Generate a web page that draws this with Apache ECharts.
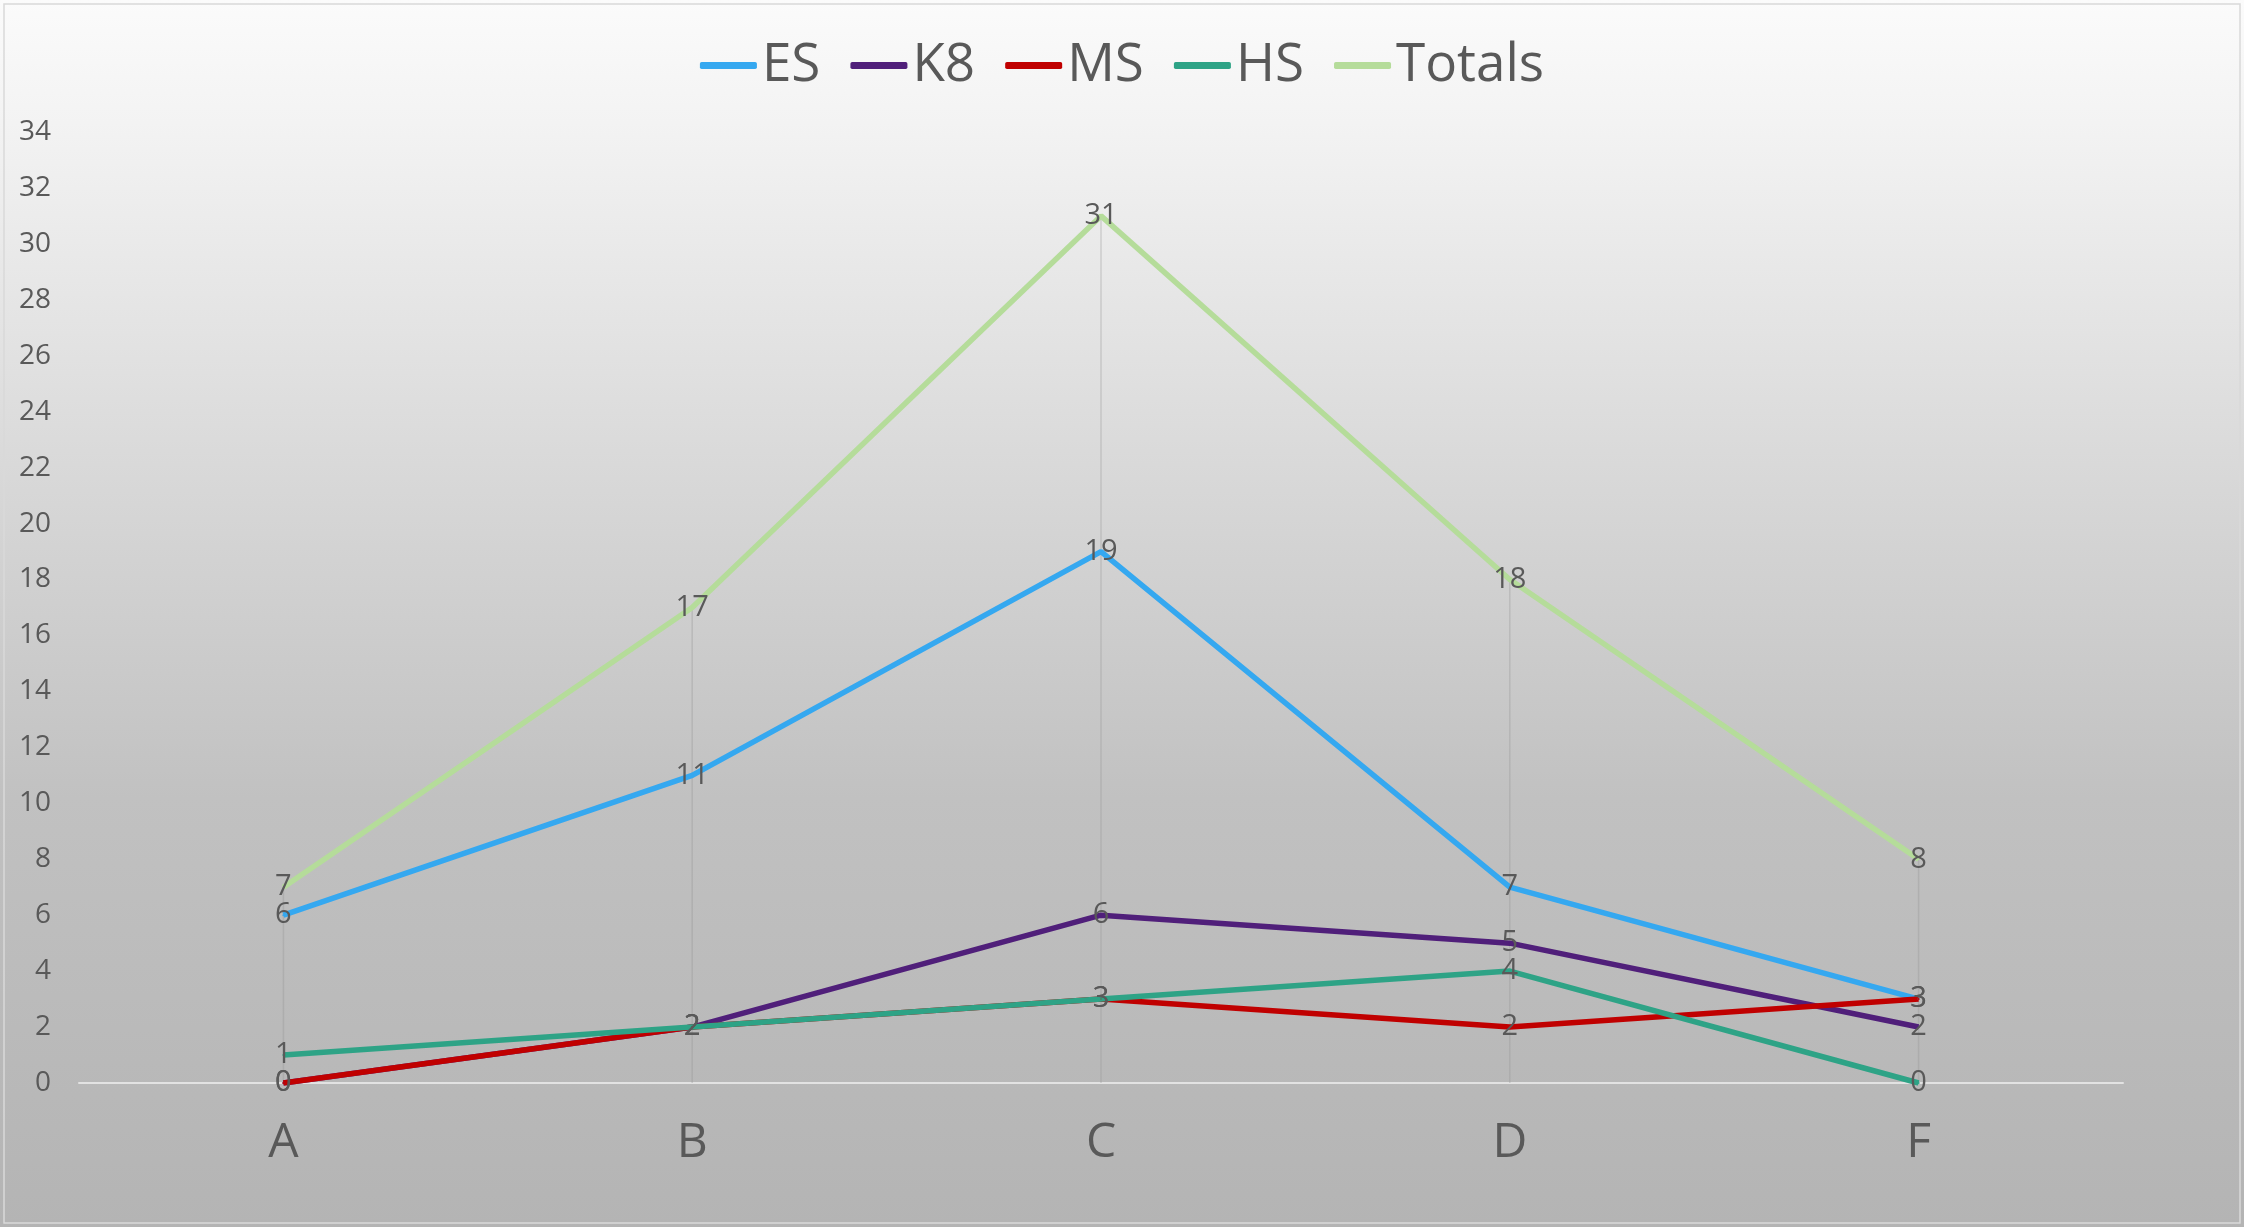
<!DOCTYPE html>
<html>
<head>
<meta charset="utf-8">
<script src="https://cdn.jsdelivr.net/npm/echarts@6/dist/echarts.min.js"></script>
<style>
  html, body { margin: 0; padding: 0; background: #ffffff; }
  #main { width: 2244px; height: 1227px; }
</style>
</head>
<body>
<div id="main"></div>
<script>
// categories and series values
var categories = ['A', 'B', 'C', 'D', 'F'];
var esData = [6, 11, 19, 7, 3];
var k8Data = [0, 2, 6, 5, 2];
var msData = [0, 2, 3, 2, 3];
var hsData = [1, 2, 3, 4, 0];
var totalsData = [7, 17, 31, 18, 8];
var yTicks = [0, 34, 2]; // min, max, step

var fontFamily = '"Open Sans", "DejaVu Sans", sans-serif';
var textColor = '#595959';

function lineSeries(name, data, color) {
  return {
    name: name,
    type: 'line',
    data: data,
    symbol: 'circle',
    symbolSize: 2,
    itemStyle: { color: color },
    lineStyle: { color: color, width: 5.5 },
    label: {
      show: true,
      position: 'inside',
      color: textColor,
      fontFamily: fontFamily,
      fontSize: 29
    },
    emphasis: { disabled: true }
  };
}

var myChart = echarts.init(document.getElementById('main'));
myChart.setOption({
  animation: false,
  backgroundColor: {
    type: 'linear', x: 0, y: 0, x2: 0, y2: 1,
    colorStops: [
      { offset: 0, color: '#fbfbfb' },
      { offset: 0.1, color: '#f3f3f3' },
      { offset: 0.4, color: '#d7d7d7' },
      { offset: 0.65, color: '#c1c1c1' },
      { offset: 1, color: '#b4b4b4' }
    ]
  },
  graphic: [{
    type: 'rect',
    shape: { x: 4, y: 4, width: 2236, height: 1219 },
    style: { fill: null, stroke: '#d9d9d9', lineWidth: 1.5 },
    silent: true
  }],
  legend: {
    data: ['ES', 'K8', 'MS', 'HS', 'Totals'],
    top: 34,
    left: 'center',
    icon: 'roundRect',
    itemWidth: 57,
    itemHeight: 7,
    itemGap: 30,
    textStyle: { color: textColor, fontFamily: fontFamily, fontSize: 53 }
  },
  grid: { left: 79, right: 121, top: 132, bottom: 144 },
  xAxis: {
    type: 'category',
    data: categories,
    boundaryGap: true,
    axisLine: { lineStyle: { color: '#e2e2e2', width: 2 } },
    axisTick: { show: false },
    axisLabel: { color: textColor, fontFamily: fontFamily, fontSize: 48, margin: 36 },
    splitLine: { show: false }
  },
  yAxis: {
    type: 'value',
    min: yTicks[0],
    max: yTicks[1],
    interval: yTicks[2],
    axisLine: { show: false },
    axisTick: { show: false },
    axisLabel: { color: textColor, fontFamily: fontFamily, fontSize: 28, margin: 28 },
    splitLine: { show: false }
  },
  series: [
    // drop lines from the highest point down to the axis
    {
      name: 'drop',
      type: 'bar',
      data: totalsData,
      barWidth: 1.5,
      itemStyle: { color: 'rgba(150,150,150,0.35)' },
      silent: true,
      z: 1
    },
    lineSeries('ES', esData, '#35a8f0'),
    lineSeries('K8', k8Data, '#501f7a'),
    lineSeries('MS', msData, '#c00000'),
    lineSeries('HS', hsData, '#2ea386'),
    lineSeries('Totals', totalsData, '#b5dc9a')
  ]
});
</script>
</body>
</html>
